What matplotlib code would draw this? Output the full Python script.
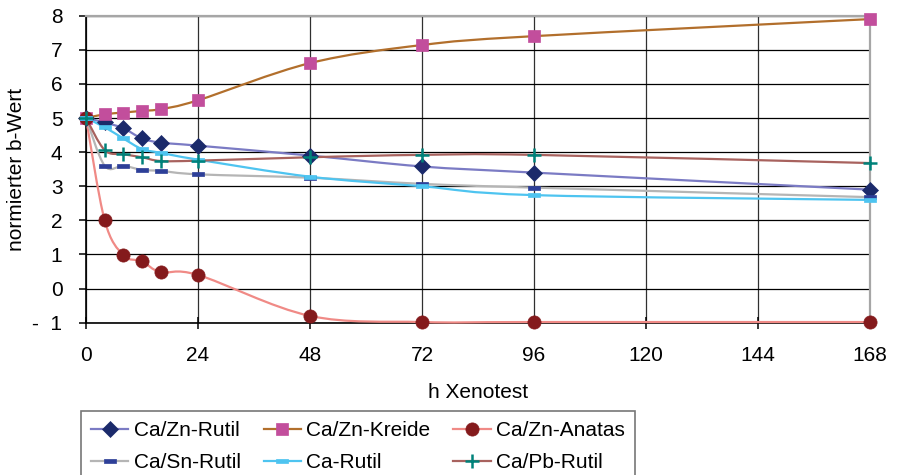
import matplotlib
matplotlib.use("Agg")
import matplotlib.pyplot as plt
from matplotlib.path import Path
from matplotlib.patches import PathPatch
from matplotlib.lines import Line2D
from matplotlib.ticker import FixedLocator, FixedFormatter

plt.rcParams["font.family"] = ["Liberation Sans", "DejaVu Sans"]

# Exposure time (hours in the Xenotest) and normalised b values
hours = [0, 4, 8, 12, 16, 24, 48, 72, 96, 168]
zn_rutil = [5.0, 4.87, 4.7, 4.4, 4.28, 4.19, 3.9, 3.58, 3.4, 2.9]
zn_kreide = [5.0, 5.11, 5.16, 5.21, 5.26, 5.52, 6.61, 7.14, 7.4, 7.9]
zn_anatas = [5.0, 2.0, 0.98, 0.8, 0.48, 0.4, -0.8, -0.98, -0.98, -0.98]
sn_rutil = [5.0, 3.6, 3.6, 3.48, 3.45, 3.35, 3.25, 3.07, 2.96, 2.68]
ca_rutil = [5.0, 4.73, 4.4, 4.09, 3.98, 3.78, 3.28, 3.0, 2.74, 2.6]
pb_rutil = [5.0, 4.06, 3.94, 3.85, 3.74, 3.75, 3.85, 3.92, 3.92, 3.68]

series_names = ["Ca/Zn-Rutil", "Ca/Zn-Kreide", "Ca/Zn-Anatas",
                "Ca/Sn-Rutil", "Ca-Rutil", "Ca/Pb-Rutil"]

x_ticks = [0, 24, 48, 72, 96, 120, 144, 168]
y_ticks = [-1, 0, 1, 2, 3, 4, 5, 6, 7, 8]
y_tick_labels = ["-  1", "0", "1", "2", "3", "4", "5", "6", "7", "8"]

FS = 15

# small bar-shaped marker used for the Sn and Ca rutile series
bar_marker = [(-1, -0.32), (1, -0.32), (1, 0.32), (-1, 0.32), (-1, -0.32)]

styles = [
    dict(line="#7B7BC4", marker="D", mfc="#1B2A6B", ms=8),
    dict(line="#B26F2C", marker="s", mfc="#C24E9C", ms=9),
    dict(line="#F08A86", marker="o", mfc="#841A1C", ms=9.5),
    dict(line="#B5B5B5", marker=bar_marker, mfc="#2D3F98", ms=8),
    dict(line="#4EC4F0", marker=bar_marker, mfc="#4EC4F0", ms=9),
    dict(line="#A8625E", marker="+", mfc="#00827A", ms=10),
]


def smooth_path(xs, ys):
    """Cubic Bezier path through the points (Catmull-Rom style tangents)."""
    pts = list(zip(xs, ys))
    n = len(pts)
    verts = [pts[0]]
    codes = [Path.MOVETO]
    for i in range(n - 1):
        p0 = pts[i - 1] if i > 0 else pts[i]
        p1 = pts[i]
        p2 = pts[i + 1]
        p3 = pts[i + 2] if i + 2 < n else pts[i + 1]
        c1 = (p1[0] + (p2[0] - p0[0]) / 6.0, p1[1] + (p2[1] - p0[1]) / 6.0)
        c2 = (p2[0] - (p3[0] - p1[0]) / 6.0, p2[1] - (p3[1] - p1[1]) / 6.0)
        verts += [c1, c2, p2]
        codes += [Path.CURVE4] * 3
    return Path(verts, codes)


fig = plt.figure(figsize=(9.14, 4.75), dpi=100)
ax = fig.add_axes([0.0941, 0.3206, 0.8578, 0.6464])

ax.set_xlim(0, 168)
ax.set_ylim(-1, 8)

ax.xaxis.set_major_locator(FixedLocator(x_ticks))
ax.yaxis.set_major_locator(FixedLocator(y_ticks))
ax.yaxis.set_major_formatter(FixedFormatter(y_tick_labels))

ax.grid(axis="y", color="black", linewidth=0.9, zorder=0)
ax.grid(axis="x", color="#303030", linewidth=0.9, zorder=0)
ax.set_axisbelow(True)

for side in ("top", "right"):
    ax.spines[side].set_color("#A6A6A6")
    ax.spines[side].set_linewidth(1.6)
for side in ("left", "bottom"):
    ax.spines[side].set_color("black")
    ax.spines[side].set_linewidth(1.2)

ax.tick_params(axis="x", direction="inout", length=9, width=1.1,
               labelsize=FS, pad=12)
ax.tick_params(axis="y", direction="out", length=5, width=1.1,
               labelsize=FS, pad=12)

data = [zn_rutil, zn_kreide, zn_anatas, sn_rutil, ca_rutil, pb_rutil]
handles = []
for name, vals, st in zip(series_names, data, styles):
    patch = PathPatch(smooth_path(hours, vals), facecolor="none",
                      edgecolor=st["line"], linewidth=1.6, zorder=3,
                      clip_on=False)
    ax.add_patch(patch)
    mkw = dict(marker=st["marker"], markersize=st["ms"],
               markerfacecolor=st["mfc"], markeredgecolor=st["mfc"])
    mkw["markeredgewidth"] = 1.8 if st["marker"] == "+" else 0.5
    ax.plot(hours, vals, linestyle="none", zorder=4, clip_on=False, **mkw)
    handles.append(Line2D([], [], color=st["line"], linewidth=1.6,
                          label=name, **mkw))

ax.set_xlabel("h Xenotest", fontsize=FS)
ax.xaxis.set_label_coords(0.5, -0.196)
ax.set_ylabel("normierter b-Wert", fontsize=FS)
ax.yaxis.set_label_coords(-0.0765, 0.5)

# legend entries run row by row across three columns
ncol = 3
nrow = (len(handles) + ncol - 1) // ncol
ordered = [handles[r * ncol + c] for c in range(ncol) for r in range(nrow)]

leg = fig.legend(handles=ordered, ncol=ncol, loc="upper left",
                 bbox_to_anchor=(80.5 / 914, 1 - 411 / 475),
                 fontsize=FS, frameon=True, fancybox=False,
                 handlelength=1.8, handletextpad=0.25, columnspacing=1.1,
                 labelspacing=0.6, borderpad=0.5, borderaxespad=0)
leg.get_frame().set_edgecolor("#555555")
leg.get_frame().set_linewidth(1.2)

fig.savefig("out.png", dpi=100)
